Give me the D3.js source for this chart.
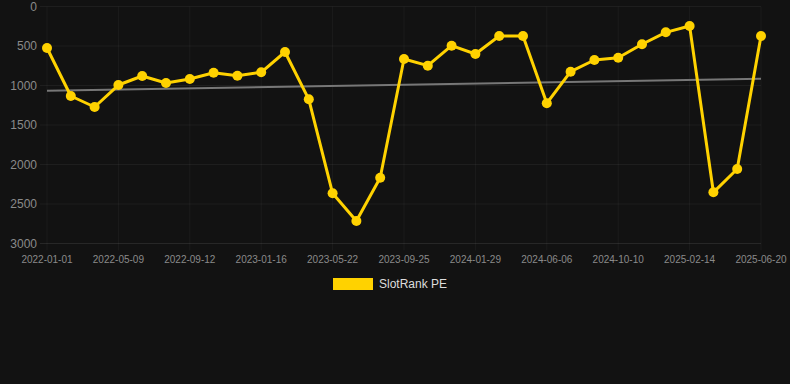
<!DOCTYPE html>
<html>
<head>
<meta charset="utf-8">
<script src="https://cdn.jsdelivr.net/npm/d3@7"></script>
<style>
  html, body { margin: 0; padding: 0; background: #121212; }
  svg { display: block; }
</style>
</head>
<body>
<svg id="chart" width="790" height="384"></svg>
<script>
// ---- data ----
const dates = [
  "2022-01-01","2022-02-12","2022-03-26","2022-05-09","2022-06-20","2022-08-01",
  "2022-09-12","2022-10-24","2022-12-05","2023-01-16","2023-02-27","2023-04-10",
  "2023-05-22","2023-07-03","2023-08-14","2023-09-25","2023-11-06","2023-12-18",
  "2024-01-29","2024-03-11","2024-04-23","2024-06-06","2024-07-18","2024-08-29",
  "2024-10-10","2024-11-21","2025-01-03","2025-02-14","2025-03-28","2025-05-09",
  "2025-06-20"
];
const rankValues = [
  525, 1133, 1272, 994, 880, 968, 918, 838, 876, 833, 576,
  1175, 2365, 2715, 2167, 665, 749, 496, 601, 373, 373,
  1225, 825, 677, 648, 478, 327, 247, 2352, 2057, 373
];
const yTicks = [0, 500, 1000, 1500, 2000, 2500, 3000];
const seriesName = "SlotRank PE";

(function () {
// ---- layout ----
const svg = d3.select("#chart");
const pLeft = 47, pRight = 761, pTop = 6.5, pBottom = 243.5;
const font = "'Liberation Sans', Arial, Helvetica, sans-serif";

const x = d3.scalePoint().domain(dates).range([pLeft, pRight]);
const y = d3.scaleLinear().domain([0, 3000]).range([pTop, pBottom]);

// horizontal grid
svg.append("g").selectAll("line").data(yTicks).join("line")
  .attr("x1", pLeft - 7).attr("x2", pRight)
  .attr("y1", d => y(d)).attr("y2", d => y(d))
  .attr("stroke", d => d === 3000 ? "rgba(255,255,255,0.09)" : "rgba(255,255,255,0.05)")
  .attr("stroke-width", 1);

// vertical grid at labelled ticks
const shownDates = dates.filter((d, i) => i % 3 === 0);
svg.append("g").selectAll("line").data(shownDates).join("line")
  .attr("x1", d => x(d)).attr("x2", d => x(d))
  .attr("y1", pTop).attr("y2", pBottom + 7)
  .attr("stroke", "rgba(255,255,255,0.045)").attr("stroke-width", 1);

// y labels
svg.append("g").selectAll("text").data(yTicks).join("text")
  .attr("x", 37).attr("y", d => y(d))
  .attr("dy", "0.35em")
  .attr("text-anchor", "end")
  .attr("font-family", font).attr("font-size", 12)
  .attr("fill", "#8a8a8a")
  .text(d => d);

// x labels
svg.append("g").selectAll("text").data(shownDates).join("text")
  .attr("x", d => x(d)).attr("y", 263)
  .attr("text-anchor", "middle")
  .attr("font-family", font).attr("font-size", 10)
  .attr("fill", "#8a8a8a")
  .text(d => d);

// trend line (linear regression of the series)
const n = rankValues.length;
const xs = d3.range(n);
const mx = d3.mean(xs), my = d3.mean(rankValues);
const slope = d3.sum(xs, i => (i - mx) * (rankValues[i] - my)) / d3.sum(xs, i => (i - mx) ** 2);
const icpt = my - slope * mx;
svg.append("line")
  .attr("x1", x(dates[0])).attr("y1", y(icpt))
  .attr("x2", x(dates[n - 1])).attr("y2", y(icpt + slope * (n - 1)))
  .attr("stroke", "#777777").attr("stroke-width", 2);

// series line
const lineGen = d3.line()
  .x((d, i) => x(dates[i]))
  .y(d => y(d));
const gold = "#FFD200";
svg.append("path")
  .datum(rankValues)
  .attr("d", lineGen)
  .attr("fill", "none")
  .attr("stroke", gold)
  .attr("stroke-width", 3)
  .attr("stroke-linejoin", "round");

svg.append("g").selectAll("circle").data(rankValues).join("circle")
  .attr("cx", (d, i) => x(dates[i]))
  .attr("cy", d => y(d))
  .attr("r", 5)
  .attr("fill", gold);

// legend
svg.append("rect")
  .attr("x", 333).attr("y", 278).attr("width", 40).attr("height", 12)
  .attr("fill", gold);
svg.append("text")
  .attr("x", 379).attr("y", 284).attr("dy", "0.35em")
  .attr("font-family", font).attr("font-size", 12)
  .attr("fill", "#dddddd")
  .text(seriesName);
})();
</script>
</body>
</html>
